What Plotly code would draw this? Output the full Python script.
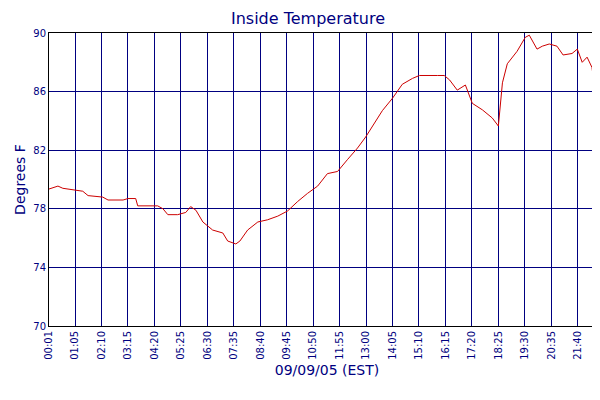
import plotly.graph_objects as go

minutes = [1,23,35,60,84,97,133,146,183,195,214,219,268,281,293,317,337,349,362,379,403,428,440,460,470,489,514,538,563,587,612,636,661,685,710,734,759,779,796,820,845,869,894,911,955,972,985,1004,1024,1041,1066,1090,1105,1115,1127,1151,1171,1181,1200,1213,1230,1249,1264,1286,1299,1311,1323,1335,1348,1360,1365]
temps = [79.35,79.55,79.4,79.3,79.2,78.9,78.8,78.6,78.6,78.7,78.7,78.2,78.2,78.0,77.6,77.6,77.75,78.15,77.9,77.1,76.55,76.35,75.8,75.6,75.8,76.55,77.1,77.25,77.5,77.85,78.5,79.05,79.55,80.4,80.55,81.35,82.15,82.9,83.65,84.7,85.55,86.5,86.9,87.1,87.1,87.1,86.8,86.1,86.45,85.2,84.75,84.2,83.65,86.6,87.9,88.75,89.7,89.85,88.9,89.1,89.25,89.1,88.5,88.6,88.9,88.0,88.35,87.65,84.9,82.15,81.1]

tick_vals = [1,65,130,195,260,325,390,455,520,585,650,715,780,845,910,975,1040,1105,1170,1235,1300,1362,1364,1366]
tick_text = ["00:01","01:05","02:10","03:15","04:20","05:25","06:30","07:35","08:40","09:45","10:50","11:55","13:00","14:05","15:10","16:15","17:20","18:25","19:30","20:35","21:40","23:45","23:50","23:55"]

navy = "#000080"
fig = go.Figure(go.Scatter(x=minutes, y=temps, mode="lines", name="Indoor Temp",
                           line=dict(color="#cc0000", width=1)))
fig.update_layout(
    width=600, height=400, paper_bgcolor="white", plot_bgcolor="white",
    margin=dict(l=41, r=3, t=25, b=82, autoexpand=False),
    font=dict(family="DejaVu Sans", color=navy, size=10),
    title=dict(text="Inside Temperature", x=0.5, xanchor="center", y=0.975, yanchor="middle",
               font=dict(size=16, color=navy)),
    showlegend=True,
    legend=dict(orientation="h", x=0.5, xanchor="center", y=-0.22, yanchor="top",
                font=dict(size=11, color=navy)),
)
fig.update_xaxes(range=[1, 1367], tickmode="array", tickvals=tick_vals, ticktext=tick_text,
                 tickangle=-90, showgrid=True, gridcolor=navy, gridwidth=1, automargin=False,
                 showline=True, linecolor="black", mirror=True, zeroline=False,
                 title=dict(text="09/09/05 (EST)", font=dict(size=14, color=navy), standoff=6),
                 tickfont=dict(size=10, color=navy))
fig.update_yaxes(range=[70, 90], tickvals=[70,74,78,82,86,90], showgrid=True, gridcolor=navy,
                 automargin=False,
                 showline=True, linecolor="black", mirror=True, zeroline=False,
                 title=dict(text="Degrees F", font=dict(size=14, color=navy), standoff=4),
                 tickfont=dict(size=10, color=navy))
fig.write_html("out.html")
